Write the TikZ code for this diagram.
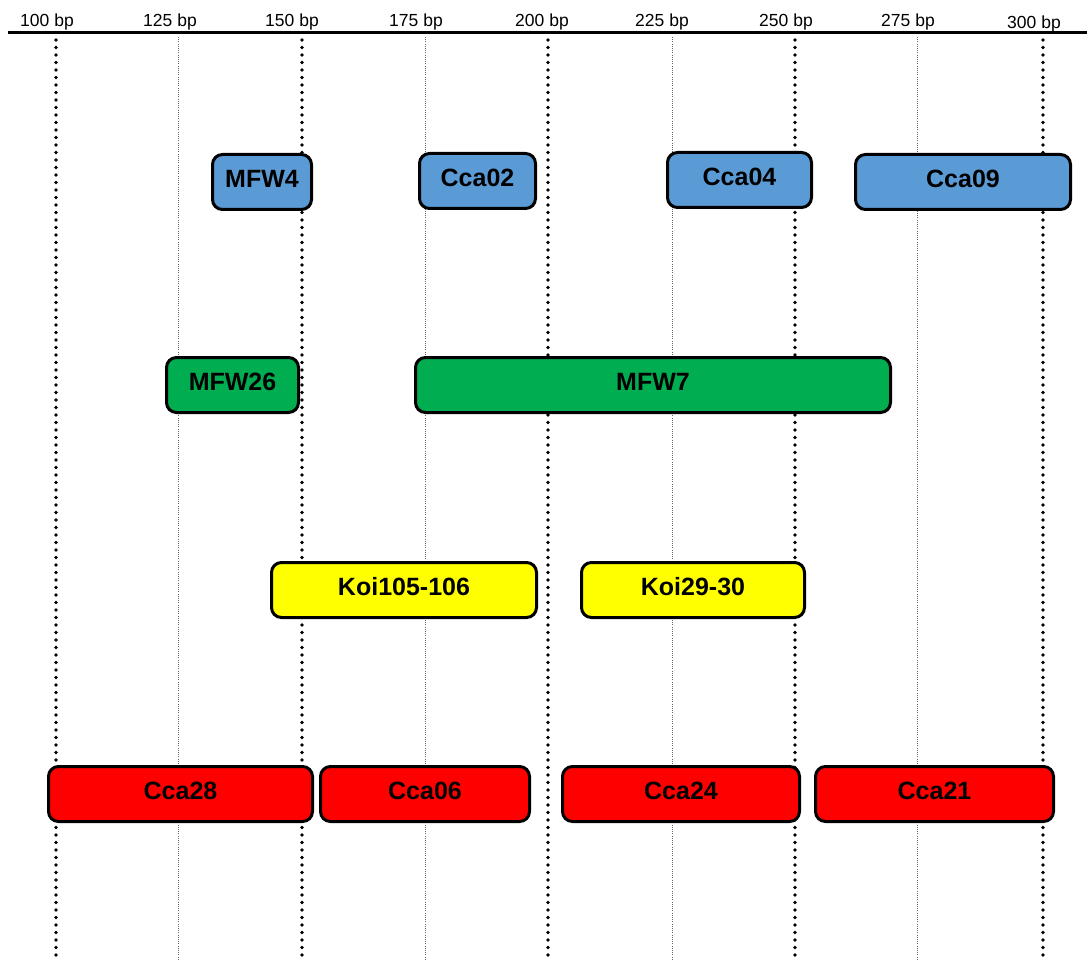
\documentclass[tikz,border=0pt]{standalone}
\usepackage{fontspec}
\setmainfont{Liberation Sans}
\definecolor{bblue}{RGB}{91,155,213}
\definecolor{bgreen}{RGB}{0,173,80}
\definecolor{byellow}{RGB}{255,255,0}
\definecolor{bred}{RGB}{255,0,0}
\tikzset{
  seg/.style={draw=black, line width=3pt, rounded corners=10pt, inner sep=0pt,
    minimum height=55pt, text depth=7pt, font=\fontsize{25}{25}\selectfont\bfseries},
  bluebox/.style={seg, fill=bblue},
  greenbox/.style={seg, fill=bgreen},
  yellowbox/.style={seg, fill=byellow},
  redbox/.style={seg, fill=bred},
  majorline/.style={line width=3.8pt, line cap=round, dash pattern=on 0pt off 7.5pt},
  minorline/.style={line width=1pt, draw=black!60, dash pattern=on 1pt off 1.2pt},
  ticklabel/.style={anchor=base, font=\fontsize{17.5}{17.5}\selectfont, inner sep=0pt}
}
\begin{document}
\begin{tikzpicture}[x=1pt,y=-1pt]
\useasboundingbox (0,0) rectangle (1087,960);
% axis
\coordinate (axL) at (8,33);
\coordinate (axR) at (1087,33);
\draw[line width=3pt] (axL) -- (axR);
% tick labels
\node[ticklabel] (l100) at (47,27) {100 bp};
\node[ticklabel] (l125) at (170,27) {125 bp};
\node[ticklabel] (l150) at (292,27) {150 bp};
\node[ticklabel] (l175) at (416,27) {175 bp};
\node[ticklabel] (l200) at (542,27) {200 bp};
\node[ticklabel] (l225) at (662,27) {225 bp};
\node[ticklabel] (l250) at (786,27) {250 bp};
\node[ticklabel] (l275) at (908,27) {275 bp};
\node[ticklabel] (l300) at (1034,29) {300 bp};
% grid lines
\foreach \x in {56,302,548,795,1043} \draw[majorline] (\x,40) -- (\x,962);
\foreach \x in {178,425,672,917} \draw[minorline] (\x,37) -- (\x,962);
% row 1
\node[bluebox, minimum width=99pt] (mfw4) at (262,182) {MFW4};
\node[bluebox, minimum width=116pt] (cca02) at (477.5,181) {Cca02};
\node[bluebox, minimum width=144pt] (cca04) at (739.5,180) {Cca04};
\node[bluebox, minimum width=215pt] (cca09) at (963,182) {Cca09};
% row 2
\node[greenbox, minimum width=132pt] (mfw26) at (232.5,385) {MFW26};
\node[greenbox, minimum width=475pt] (mfw7) at (653,385) {MFW7};
% row 3
\node[yellowbox, minimum width=265pt] (koi105) at (404,590) {Koi105-106};
\node[yellowbox, minimum width=223pt] (koi29) at (693,590) {Koi29-30};
% row 4
\node[redbox, minimum width=264pt] (cca28) at (180.5,794) {Cca28};
\node[redbox, minimum width=209pt] (cca06) at (425,794) {Cca06};
\node[redbox, minimum width=237pt] (cca24) at (681,794) {Cca24};
\node[redbox, minimum width=238pt] (cca21) at (934.5,794) {Cca21};
\end{tikzpicture}
\end{document}
